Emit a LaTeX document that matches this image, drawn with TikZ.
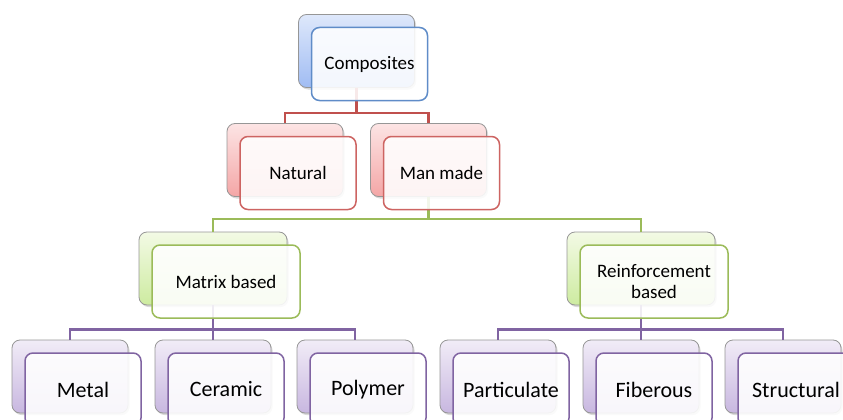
\documentclass[tikz,border=0pt]{standalone}
\usepackage{fontspec}
\setmainfont{Carlito}
\usetikzlibrary{shadows}
\definecolor{BackGray}{RGB}{150,150,150}
\definecolor{BlueLine}{RGB}{95,140,200}
\definecolor{BlueTop}{RGB}{222,232,251}
\definecolor{BlueBot}{RGB}{160,188,243}
\definecolor{RedLine}{RGB}{192,80,77}
\definecolor{RedEdge}{RGB}{205,100,98}
\definecolor{RedTop}{RGB}{252,228,228}
\definecolor{RedBot}{RGB}{244,166,166}
\definecolor{GreenLine}{RGB}{155,187,89}
\definecolor{GreenTop}{RGB}{243,250,229}
\definecolor{GreenBot}{RGB}{205,235,160}
\definecolor{PurpleLine}{RGB}{128,100,162}
\definecolor{PurpleTop}{RGB}{241,236,247}
\definecolor{PurpleBot}{RGB}{200,183,224}

\begin{document}
\begin{tikzpicture}[x=1pt, y=-1pt,
        back/.style={rounded corners=8pt, draw=BackGray, line width=0.8pt,
                     minimum width=116pt, minimum height=73pt, inner sep=0pt,
                     drop shadow={opacity=0.3, shadow xshift=1.5pt, shadow yshift=-2pt}},
        front/.style={rounded corners=8pt, line width=1.5pt, fill=white,
                      fill opacity=0.88, text opacity=1,
                      minimum width=116pt, minimum height=73pt, inner sep=2pt,
                      align=center, font=\fontsize{19}{20.5}\selectfont},
        blueback/.style={back, top color=BlueTop, bottom color=BlueBot},
        redback/.style={back, top color=RedTop, bottom color=RedBot},
        greenback/.style={back, top color=GreenTop, bottom color=GreenBot, minimum width=148pt},
        purpleback/.style={back, top color=PurpleTop, bottom color=PurpleBot},
        bluefront/.style={front, draw=BlueLine},
        redfront/.style={front, draw=RedEdge},
        greenfront/.style={front, draw=GreenLine, minimum width=148pt},
        purplefront/.style={front, draw=PurpleLine, font=\fontsize{22}{24}\selectfont},
        link/.style={line width=2.6pt}
    ]
    \useasboundingbox (0,0) rectangle (843,420);
    \clip (0,0) rectangle (843,420);

    \coordinate (comp-s) at (356.5,88);
    \coordinate (man-s) at (428.5,197);
    \coordinate (mat-s) at (213,305);
    \coordinate (rein-s) at (641,305);

    \node[blueback] (comp-b) at (356.5,51) {};
    \node[redback] (nat-b) at (285,160) {};
    \node[redback] (man-b) at (428.5,160) {};
    \node[greenback] (mat-b) at (213,268.5) {};
    \node[greenback] (rein-b) at (641,268.5) {};
    \node[purpleback] (met-b) at (70,376.5) {};
    \node[purpleback] (cer-b) at (213,376.5) {};
    \node[purpleback] (pol-b) at (355,376.5) {};
    \node[purpleback] (par-b) at (498,376.5) {};
    \node[purpleback] (fib-b) at (641,376.5) {};
    \node[purpleback] (str-b) at (783,376.5) {};

    \draw[link, RedLine] (comp-b.south) -- ++(0,25) -| (nat-b.north);
    \draw[link, RedLine] (comp-b.south) -- ++(0,25) -| (man-b.north);
    \draw[link, GreenLine] (man-b.south) -- ++(0,22) -| (mat-b.north);
    \draw[link, GreenLine] (man-b.south) -- ++(0,22) -| (rein-b.north);
    \draw[link, PurpleLine] (mat-b.south) -- ++(0,24) -| (met-b.north);
    \draw[link, PurpleLine] (mat-b.south) -- ++(0,24) -| (cer-b.north);
    \draw[link, PurpleLine] (mat-b.south) -- ++(0,24) -| (pol-b.north);
    \draw[link, PurpleLine] (rein-b.south) -- ++(0,24) -| (par-b.north);
    \draw[link, PurpleLine] (rein-b.south) -- ++(0,24) -| (fib-b.north);
    \draw[link, PurpleLine] (rein-b.south) -- ++(0,24) -| (str-b.north);

    \node[bluefront] (comp) at (369.5,64) {Composites};
    \node[redfront] (nat) at (298,173) {Natural};
    \node[redfront] (man) at (441.5,173) {Man made};
    \node[greenfront] (mat) at (226,281.5) {Matrix based};
    \node[greenfront] (rein) at (654,281.5) {Reinforcement\\based};
    \node[purplefront] (met) at (83,389.5) {Metal};
    \node[purplefront] (cer) at (226,389.5) {Ceramic};
    \node[purplefront] (pol) at (368,389.5) {Polymer};
    \node[purplefront] (par) at (511,389.5) {Particulate};
    \node[purplefront] (fib) at (654,389.5) {Fiberous};
    \node[purplefront] (str) at (796,389.5) {Structural};
\end{tikzpicture}
\end{document}
